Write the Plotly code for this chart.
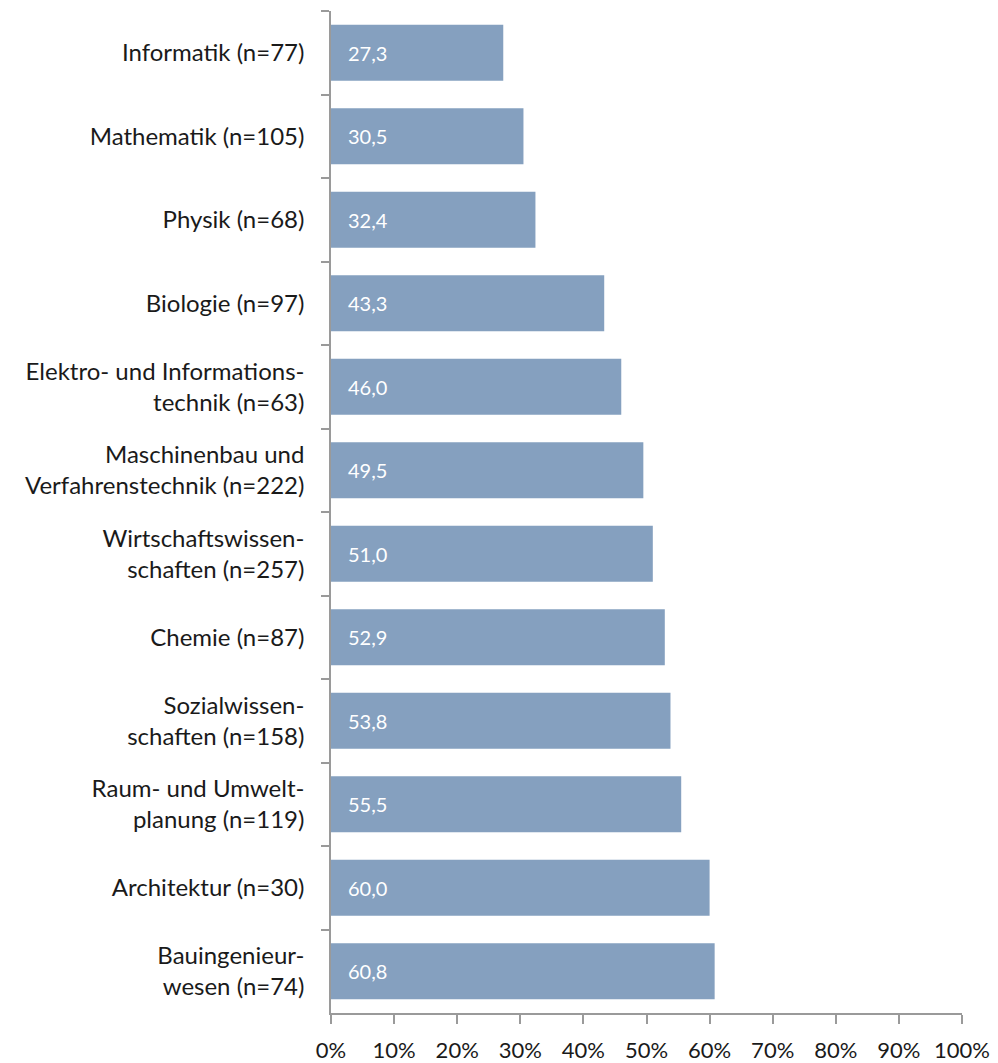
import plotly.graph_objects as go

categories = [
    "Informatik (n=77)",
    "Mathematik (n=105)",
    "Physik (n=68)",
    "Biologie (n=97)",
    "Elektro- und Informations-<br>technik (n=63)",
    "Maschinenbau und<br>Verfahrenstechnik (n=222)",
    "Wirtschaftswissen-<br>schaften (n=257)",
    "Chemie (n=87)",
    "Sozialwissen-<br>schaften (n=158)",
    "Raum- und Umwelt-<br>planung (n=119)",
    "Architektur (n=30)",
    "Bauingenieur-<br>wesen (n=74)",
]
values = [27.3, 30.5, 32.4, 43.3, 46.0, 49.5, 51.0, 52.9, 53.8, 55.5, 60.0, 60.8]
x_ticks = [0, 10, 20, 30, 40, 50, 60, 70, 80, 90, 100]
x_tick_labels = [f"{v}%" for v in x_ticks]

labels = [f"{v:.1f}".replace(".", ",") for v in values]

FONT = "Lato"
TEXT = "#1a1a1a"
AXIS = "#9a9a9a"

fig = go.Figure(
    go.Bar(
        x=values,
        y=categories,
        orientation="h",
        marker=dict(color="#85A0BF", line=dict(width=0)),
        width=0.67,
        hoverinfo="x+y",
    )
)

for cat, lab in zip(categories, labels):
    fig.add_annotation(
        x=0, y=cat, xref="x", yref="y",
        text=lab, showarrow=False,
        xanchor="left", yanchor="middle",
        xshift=15,
        font=dict(color="white", size=20, family=FONT),
    )

fig.update_layout(
    width=990,
    height=1055,
    margin=dict(l=323, r=36, t=3, b=50),
    plot_bgcolor="white",
    paper_bgcolor="white",
    showlegend=False,
    font=dict(family=FONT, size=24, color=TEXT),
)

fig.update_xaxes(
    range=[0, 100],
    tickvals=x_ticks,
    ticktext=x_tick_labels,
    showgrid=False,
    zeroline=False,
    showline=True,
    linecolor=AXIS,
    linewidth=1.5,
    ticks="outside",
    ticklen=9,
    tickwidth=1.5,
    tickcolor=AXIS,
    tickfont=dict(size=22, family=FONT, color=TEXT),
    ticklabelstandoff=8,
    automargin=False,
)

fig.update_yaxes(
    autorange="reversed",
    categoryorder="array",
    categoryarray=categories,
    showgrid=False,
    zeroline=False,
    showline=True,
    linecolor=AXIS,
    linewidth=1.5,
    ticks="outside",
    tickson="boundaries",
    ticklen=8,
    tickwidth=1.5,
    tickcolor=AXIS,
    tickfont=dict(size=24, family=FONT, color=TEXT),
    ticklabelstandoff=20,
    automargin=False,
)

fig.write_html("out.html")
